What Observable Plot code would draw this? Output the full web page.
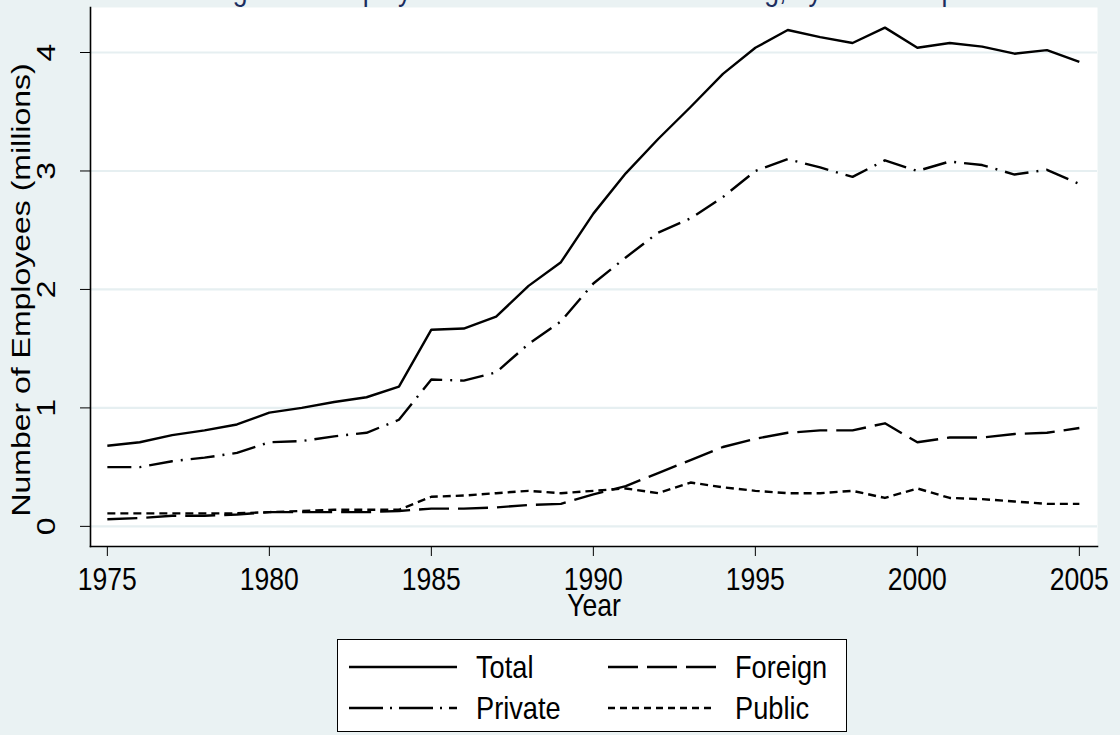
<!DOCTYPE html>
<html>
<head>
<meta charset="utf-8">
<script src="https://cdn.jsdelivr.net/npm/d3@7"></script>
<script src="https://cdn.jsdelivr.net/npm/@observablehq/plot@0.6"></script>
<style>
  html, body { margin: 0; padding: 0; background: #eaf2f3; width: 1120px; height: 735px; overflow: hidden;
    font-family: "Liberation Sans", Arial, sans-serif; }
  #wrap { position: relative; width: 1120px; height: 735px; overflow: hidden; }
  #title { position: absolute; left: 20px; top: -27px; width: 1120px; text-align: center;
    font-size: 32px; line-height: 32px; color: #1c2d5e; white-space: nowrap;
    transform: scaleX(0.83); transform-origin: 580px 0; }
  #chart { position: absolute; left: 0; top: 0; }
  #legend { position: absolute; left: 337px; top: 639px; width: 508px; height: 91px;
    border: 1.5px solid #000; background: #fff; }
  .item { position: absolute; display: flex; align-items: center; height: 36px; font-size: 32px; color: #000; }
  .item svg { margin-right: 19px; flex: none; }
  .item span { display: inline-block; transform: scaleX(0.85); transform-origin: 0 50%; white-space: nowrap; }
</style>
</head>
<body>
<div id="wrap">
  <div id="title">Figure 1: Employment in Chinese Manufacturing, by Ownership</div>
  <div id="chart"></div>
  <div id="legend"></div>
</div>
<script>
// ---- data (millions of employees) ----
const years = [1975,1976,1977,1978,1979,1980,1981,1982,1983,1984,1985,1986,1987,1988,1989,1990,
               1991,1992,1993,1994,1995,1996,1997,1998,1999,2000,2001,2002,2003,2004,2005];
const total   = [0.68,0.71,0.77,0.81,0.86,0.96,1.00,1.05,1.09,1.18,1.66,1.67,1.77,2.03,2.23,2.64,
                 2.98,3.27,3.54,3.82,4.04,4.19,4.13,4.08,4.21,4.04,4.08,4.05,3.99,4.02,3.92];
const private_ = [0.50,0.50,0.55,0.58,0.62,0.71,0.72,0.76,0.79,0.90,1.24,1.23,1.30,1.54,1.73,2.05,
                 2.27,2.48,2.60,2.78,3.00,3.10,3.03,2.95,3.09,3.00,3.08,3.05,2.97,3.01,2.89];
const foreign = [0.06,0.07,0.09,0.09,0.10,0.12,0.12,0.12,0.12,0.13,0.15,0.15,0.16,0.18,0.19,0.27,
                 0.34,0.45,0.56,0.67,0.74,0.79,0.81,0.81,0.87,0.71,0.75,0.75,0.78,0.79,0.83];
const public_ = [0.11,0.11,0.11,0.11,0.11,0.12,0.13,0.14,0.14,0.14,0.25,0.26,0.28,0.30,0.28,0.30,
                 0.32,0.28,0.37,0.33,0.30,0.28,0.28,0.30,0.24,0.32,0.24,0.23,0.21,0.19,0.19];
const seriesNames = ["Total", "Private", "Foreign", "Public"];
const xTicks = [1975, 1980, 1985, 1990, 1995, 2000, 2005];
const yTicks = [0, 1, 2, 3, 4];
const xTitle = "Year";
const yTitle = "Number of Employees (millions)";

// ---- styles ----
const dashes = { Total: null, Private: "24,8,2,8", Foreign: "30,9", Public: "8,5" };
const legendDashes = { Total: null, Private: "34,7,2,7", Foreign: "30,9", Public: "7,5" };
const valuesBy = { Total: total, Private: private_, Foreign: foreign, Public: public_ };

const rows = seriesNames.map(name => years.map((yr, i) => ({ year: yr, value: valuesBy[name][i], series: name })));

const font = "'Liberation Sans', Arial, sans-serif";
const FS = 32;       // font size
const SQ = 0.83;     // horizontal squeeze of the text (as in the reference)
const chart = Plot.plot({
  width: 1120,
  height: 630,
  marginLeft: 90,
  marginRight: 23,
  marginTop: 7,
  marginBottom: 84,
  style: { background: "transparent", fontFamily: font, fontSize: FS + "px", color: "#000" },
  x: { domain: [1974.48, 2005.56] },
  y: { domain: [-0.17, 4.38] },
  marks: [
    Plot.frame({ fill: "#fff", stroke: null }),
    Plot.ruleY(yTicks, { stroke: "#e6eff1", strokeWidth: 2.2 }),
    ...rows.map((data, k) => Plot.line(data, {
      x: "year", y: "value", stroke: "#000", strokeWidth: 2.4,
      strokeDasharray: dashes[seriesNames[k]], strokeLinejoin: "round", strokeLinecap: "butt"
    })),
    Plot.frame({ anchor: "left", stroke: "#000", strokeWidth: 1.6 }),
    Plot.frame({ anchor: "bottom", stroke: "#000", strokeWidth: 1.6 }),
    Plot.axisX({ ticks: xTicks, tickSize: 10, tickFormat: () => "", label: null, stroke: "#000" }),
    Plot.axisY({ ticks: yTicks, tickSize: 10, tickFormat: () => "", label: null, stroke: "#000" }),
    Plot.text(xTicks, { x: d => d, text: d => String(d), frameAnchor: "bottom", dy: 21,
                        lineAnchor: "top", textAnchor: "middle", fontSize: FS, fill: "#000" }),
    Plot.text(yTicks, { y: d => d, text: d => String(d), frameAnchor: "left", dx: -44,
                        rotate: -90, textAnchor: "middle", lineAnchor: "middle", fontSize: FS, fill: "#000" }),
    Plot.text([xTitle], { frameAnchor: "bottom", text: d => d, dy: 47, lineAnchor: "top",
                          textAnchor: "middle", fontSize: FS, fill: "#000" }),
    Plot.text([yTitle], { frameAnchor: "left", text: d => d, dx: -69, dy: 13, rotate: -90,
                          textAnchor: "middle", lineAnchor: "middle", fontSize: FS, fill: "#000" })
  ]
});
// squeeze every text horizontally on screen, around its own anchor
d3.select(chart).selectAll("text").each(function () {
  let tr = this.getAttribute("transform") || "";
  const x = +this.getAttribute("x") || 0, y = +this.getAttribute("y") || 0;
  if (x || y) { tr += ` translate(${x},${y})`; this.removeAttribute("x"); this.removeAttribute("y"); }
  tr += tr.includes("rotate") ? ` scale(1,${SQ})` : ` scale(${SQ},1)`;
  this.setAttribute("transform", tr.trim());
});
document.getElementById("chart").appendChild(chart);

// ---- legend ----
const legend = document.getElementById("legend");
const legendPos = { Total: [11, 9], Foreign: [270, 9], Private: [11, 50], Public: [270, 50] };
seriesNames.forEach(name => {
  const [lx, ly] = legendPos[name];
  const item = document.createElement("div");
  item.className = "item";
  item.style.left = lx + "px";
  item.style.top = ly + "px";
  const dash = legendDashes[name];
  item.innerHTML = `<svg width="108" height="10"><line x1="0" x2="108" y1="5" y2="5" stroke="#000" stroke-width="2.4" ${dash ? `stroke-dasharray="${dash}"` : ""}/></svg><span>${name}</span>`;
  legend.appendChild(item);
});
</script>
</body>
</html>
